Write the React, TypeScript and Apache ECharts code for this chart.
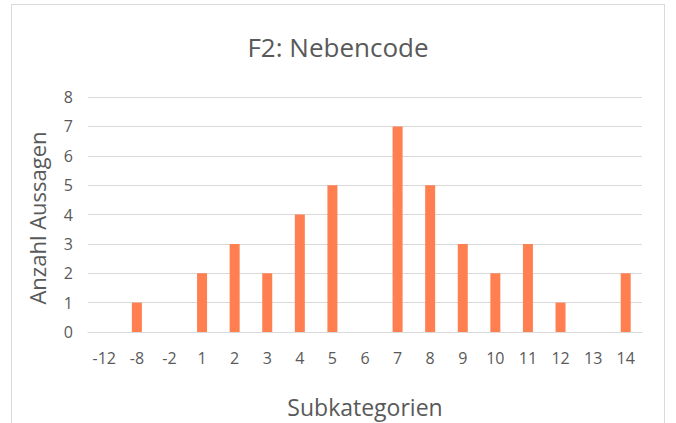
import React, { useEffect, useRef } from "react";
import * as echarts from "echarts";

const categories = ["-12", "-8", "-2", "1", "2", "3", "4", "5", "6", "7", "8", "9", "10", "11", "12", "13", "14"];
const counts = [0, 1, 0, 2, 3, 2, 4, 5, 0, 7, 5, 3, 2, 3, 1, 0, 2];
const titleText = "F2: Nebencode";
const yName = "Anzahl Aussagen";
const xName = "Subkategorien";

export default function App() {
  const ref = useRef<HTMLDivElement>(null);
  useEffect(() => {
    document.body.style.margin = "0";
    const chart = echarts.init(ref.current!, null, { renderer: "svg" });
    const font = "'Open Sans', sans-serif";
    chart.setOption({
      animation: false,
      backgroundColor: "#ffffff",
      textStyle: { fontFamily: font },
      title: {
        text: titleText,
        left: "center",
        top: 29,
        textStyle: { fontSize: 26, fontWeight: "normal", color: "#595959", fontFamily: font },
      },
      graphic: [
        {
          type: "rect",
          shape: { x: 11.5, y: 4.5, width: 653, height: 440 },
          style: { fill: "none", stroke: "#d9d9d9", lineWidth: 1 },
          silent: true,
        },
        {
          type: "text",
          x: 37,
          y: 218,
          rotation: Math.PI / 2,
          style: {
            text: yName,
            fontSize: 22,
            fill: "#595959",
            fontFamily: font,
            align: "center",
            verticalAlign: "middle",
          },
        },
      ],
      grid: { left: 88, right: 34, top: 97, bottom: 78 },
      xAxis: {
        type: "category",
        data: categories,
        name: xName,
        nameLocation: "middle",
        nameGap: 63,
        nameTextStyle: { fontSize: 23, color: "#595959", fontFamily: font },
        axisLine: { lineStyle: { color: "#d9d9d9", width: 1 } },
        axisTick: { show: false },
        axisLabel: { color: "#595959", fontSize: 16, margin: 18, fontFamily: font },
      },
      yAxis: {
        type: "value",
        min: 0,
        max: 8,
        interval: 1,
        axisLine: { show: false },
        axisTick: { show: false },
        splitLine: { lineStyle: { color: "#d9d9d9", width: 1 } },
        axisLabel: { color: "#595959", fontSize: 16, margin: 15, fontFamily: font },
      },
      series: [
        {
          type: "bar",
          data: counts,
          barWidth: 10,
          itemStyle: { color: "#ff7f50" },
        },
      ],
    });
    return () => chart.dispose();
  }, []);
  return <div ref={ref} style={{ width: 676, height: 423 }} />;
}
